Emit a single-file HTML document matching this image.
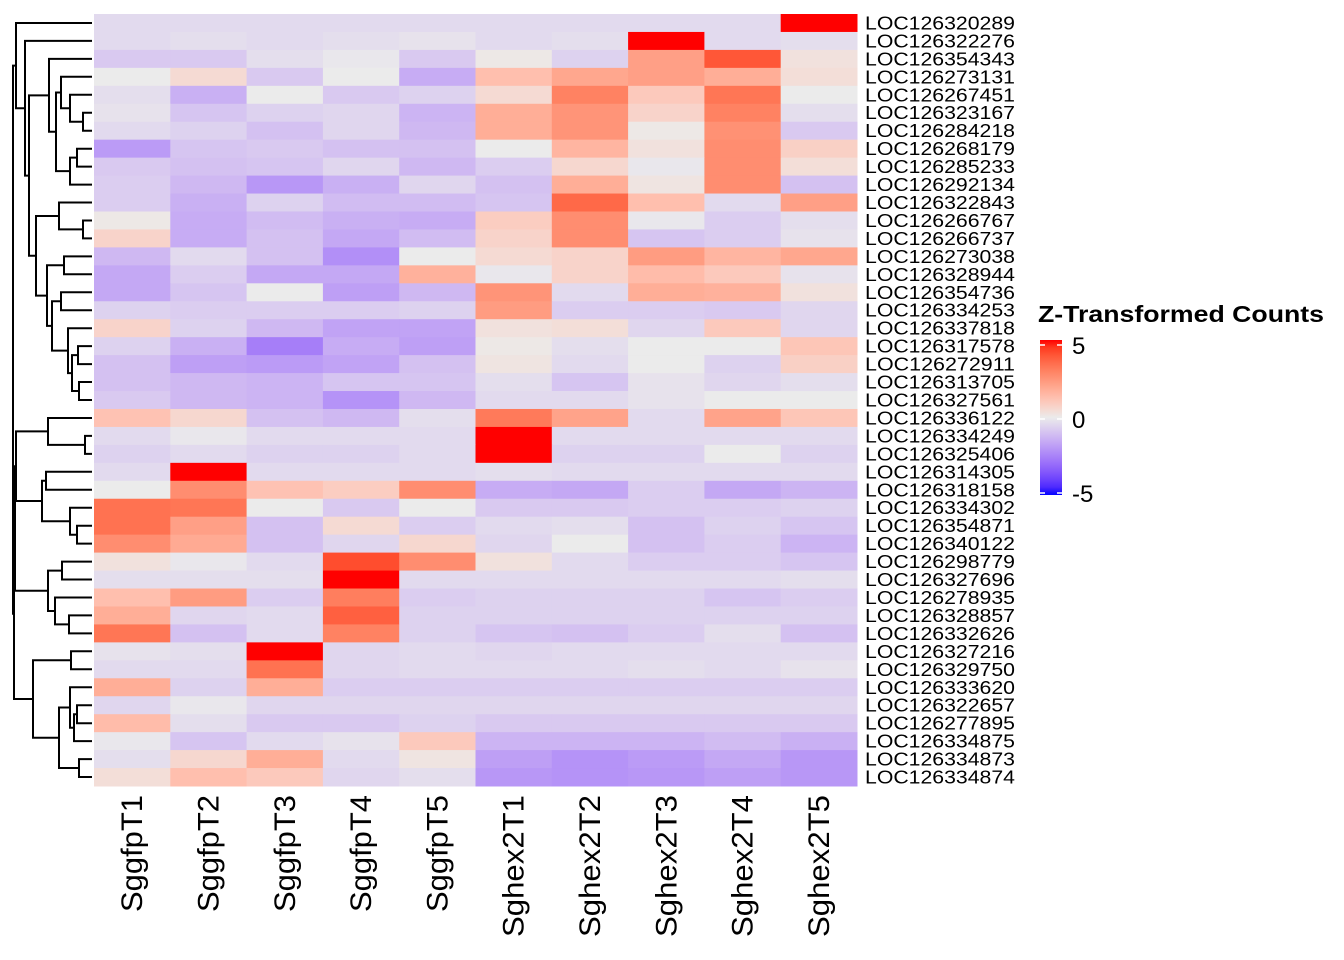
<!DOCTYPE html>
<html><head><meta charset="utf-8"><style>
html,body{margin:0;padding:0;background:#fff;}
svg{display:block;font-family:"Liberation Sans",Arial,sans-serif;}
</style></head><body>
<svg id="chart" width="1344" height="960" viewBox="0 0 1344 960">
<defs>
<linearGradient id="lg" x1="0" y1="0" x2="0" y2="1"></linearGradient>
</defs>
<g id="dendro"></g>
<g id="cells"></g>
<g id="rowlabels"></g>
<g id="collabels"></g>
<g id="legend">
<text x="1038" y="322" font-size="23" font-weight="bold" fill="#000" textLength="286" lengthAdjust="spacingAndGlyphs">Z-Transformed Counts</text>
<rect x="1040" y="340" width="22" height="155" fill="url(#lg)"/>
</g>
</svg>
<script>
const columns = ["SggfpT1","SggfpT2","SggfpT3","SggfpT4","SggfpT5","Sghex2T1","Sghex2T2","Sghex2T3","Sghex2T4","Sghex2T5"];
const genes = ["LOC126320289","LOC126322276","LOC126354343","LOC126273131","LOC126267451","LOC126323167","LOC126284218","LOC126268179","LOC126285233","LOC126292134","LOC126322843","LOC126266767","LOC126266737","LOC126273038","LOC126328944","LOC126354736","LOC126334253","LOC126337818","LOC126317578","LOC126272911","LOC126313705","LOC126327561","LOC126336122","LOC126334249","LOC126325406","LOC126314305","LOC126318158","LOC126334302","LOC126354871","LOC126340122","LOC126298779","LOC126327696","LOC126278935","LOC126328857","LOC126332626","LOC126327216","LOC126329750","LOC126333620","LOC126322657","LOC126277895","LOC126334875","LOC126334873","LOC126334874"];
const zValues = [
[-0.4,-0.4,-0.4,-0.4,-0.4,-0.4,-0.4,-0.4,-0.4,5.5],
[-0.4,-0.3,-0.4,-0.3,-0.2,-0.4,-0.3,5.5,-0.4,-0.3],
[-0.8,-0.8,-0.3,-0.1,-0.8,0.1,-0.6,2.2,4,0.3],
[0,0.5,-0.8,0,-1.5,1.3,2,2.2,1.8,0.4],
[-0.3,-1.4,0,-0.8,-0.6,0.5,3,1,3.3,0],
[-0.2,-0.9,-0.6,-0.5,-1.3,1.8,2.5,0.7,3,-0.3],
[-0.4,-0.6,-1,-0.5,-1.2,1.8,2.5,0.1,2.6,-0.8],
[-1.9,-0.9,-0.8,-1,-1,0,1.6,0.3,2.7,0.8],
[-0.8,-1,-0.9,-0.5,-1.2,-0.7,0.6,-0.1,2.7,0.4],
[-0.7,-1.2,-2,-1.4,-0.5,-1,1.8,0.2,2.7,-1],
[-0.7,-1.4,-0.6,-1.1,-1.1,-0.9,3.6,1.3,-0.4,2.2],
[0.1,-1.5,-1.1,-1.4,-1.5,0.9,2.7,-0.1,-0.7,-0.3],
[0.7,-1.5,-1,-1.6,-1.1,0.7,2.7,-0.9,-0.7,-0.2],
[-1.2,-0.4,-1,-2.2,0,0.5,0.7,2.3,1.6,2],
[-1.6,-0.7,-1.6,-1.6,1.7,-0.1,0.7,1.4,1,-0.2],
[-1.6,-0.9,0,-1.8,-1.2,2.5,-0.4,1.8,1.7,0.3],
[-0.6,-0.7,-0.7,-0.7,-0.6,2.3,-0.7,-0.7,-0.8,-0.5],
[0.7,-0.6,-1.2,-1.7,-1.7,0.3,0.4,-0.5,1,-0.5],
[-0.6,-1.4,-2.6,-1.5,-1.8,0.1,-0.3,0,0,1.1],
[-1,-1.8,-1.9,-1.7,-1,0.2,-0.4,0,-0.6,0.8],
[-1,-1.2,-1.3,-0.9,-0.9,-0.3,-0.9,-0.2,-0.5,-0.3],
[-0.8,-1.2,-1.3,-2.1,-1.2,-0.4,-0.4,-0.2,0,0],
[1.2,0.6,-1,-1.2,-0.3,3.2,2.1,-0.4,2.1,1.1],
[-0.4,-0.1,-0.4,-0.4,-0.4,5.5,-0.4,-0.4,-0.4,-0.4],
[-0.6,-0.4,-0.6,-0.6,-0.4,5,-0.6,-0.6,0,-0.6],
[-0.4,5.5,-0.4,-0.4,-0.4,-0.3,-0.4,-0.4,-0.4,-0.4],
[0,2.7,1.2,0.9,2.7,-1.5,-1.6,-0.7,-1.6,-1.3],
[3.4,3.3,0,-0.8,0,-0.8,-0.8,-0.7,-0.7,-0.6],
[3.4,2.2,-1,0.5,-0.7,-0.4,-0.3,-1,-0.6,-0.9],
[2.7,1.9,-1,-0.5,0.6,-0.5,0,-1,-0.7,-1.3],
[0.3,-0.1,-0.4,4.2,2.7,0.3,-0.4,-0.7,-0.7,-0.9],
[-0.3,-0.3,-0.3,5.5,-0.4,-0.4,-0.4,-0.4,-0.4,-0.3],
[1.3,2.3,-0.7,3.1,-0.7,-0.6,-0.6,-0.6,-0.9,-0.7],
[1.8,-0.5,-0.4,3.8,-0.6,-0.6,-0.6,-0.6,-0.6,-0.6],
[3.3,-1,-0.4,3,-0.6,-0.9,-1,-0.7,-0.3,-1],
[-0.2,-0.3,5.5,-0.5,-0.4,-0.5,-0.4,-0.4,-0.4,-0.4],
[-0.4,-0.4,3.4,-0.5,-0.4,-0.4,-0.4,-0.3,-0.4,-0.2],
[1.8,-0.6,1.8,-0.7,-0.7,-0.7,-0.7,-0.7,-0.7,-0.7],
[-0.5,-0.1,-0.5,-0.5,-0.5,-0.5,-0.5,-0.5,-0.5,-0.5],
[1.4,-0.3,-0.8,-0.8,-0.6,-0.8,-0.8,-0.8,-0.8,-0.8],
[-0.1,-0.9,-0.4,-0.2,1,-1.3,-1.3,-1.3,-1.1,-1.4],
[-0.3,0.6,1.8,-0.4,0.2,-1.8,-2.1,-1.9,-1.6,-2],
[0.4,1.3,1,-0.5,-0.3,-2,-2.1,-2,-1.8,-2]
];
const legendTicks = [5,0,-5];
const dendroTree = [[0,[1,[[2,[[3,[4,[5,6,83],70],61],[[7,8,77],9,70],56],49],[[10,[11,12,83],59],[[13,14,64],[[15,16,61],[17,[[18,19,78],[20,21,79],72],68],52],47],36],29],25],16],
 [[[[22,[23,24,85],48],[[25,26,46],[27,[28,29,77],70],42],16],[[30,31,62],[32,[33,34,69],55],48],15],[[35,36,71],[[37,[[38,39,77],40,74],70],[41,42,79],59],33],14],13];

const X0=94,X1=857,Y0=14,Y1=786;
const cw=(X1-X0)/columns.length, rh=(Y1-Y0)/genes.length;
const xPos=j=>X0+j*cw, yPos=i=>Y0+i*rh, yMid=i=>Y0+(i+0.5)*rh;

function s2l(c){c/=255;return c<=0.04045?c/12.92:Math.pow((c+0.055)/1.055,2.4);}
function l2s(c){c=c<=0.0031308?12.92*c:1.055*Math.pow(c,1/2.4)-0.055;return Math.max(0,Math.min(255,Math.round(c*255)));}
function toLab(r,g,b){r=s2l(r);g=s2l(g);b=s2l(b);
 let x=(r*0.4124+g*0.3576+b*0.1805)/0.95047,y=r*0.2126+g*0.7152+b*0.0722,z=(r*0.0193+g*0.1192+b*0.9505)/1.08883;
 const f=t=>t>0.008856?Math.cbrt(t):7.787*t+16/116;x=f(x);y=f(y);z=f(z);return [116*y-16,500*(x-y),200*(y-z)];}
function fromLab(L,a,bb){let y=(L+16)/116,x=a/500+y,z=y-bb/200;
 const fi=t=>t*t*t>0.008856?t*t*t:(t-16/116)/7.787;x=fi(x)*0.95047;y=fi(y);z=fi(z)*1.08883;
 const r=x*3.2406+y*-1.5372+z*-0.4986,g=x*-0.9689+y*1.8758+z*0.0415,b=x*0.0557+y*-0.2040+z*1.0570;
 return `rgb(${l2s(r)},${l2s(g)},${l2s(b)})`;}
const cBlue=toLab(0,0,255),cMid=toLab(235,235,235),cRed=toLab(255,0,0);
function color(v){v=Math.max(-5,Math.min(5,v));const t=Math.abs(v)/5;const e=v<0?cBlue:cRed;
 return fromLab(cMid[0]+(e[0]-cMid[0])*t,cMid[1]+(e[1]-cMid[1])*t,cMid[2]+(e[2]-cMid[2])*t);}

const NS="http://www.w3.org/2000/svg";
function mk(tag,attrs,parent){const el=document.createElementNS(NS,tag);for(const k in attrs)el.setAttribute(k,attrs[k]);parent.appendChild(el);return el;}

const cells=document.getElementById('cells');
zValues.forEach((row,i)=>row.forEach((v,j)=>{
 const r=mk('rect',{x:xPos(j).toFixed(2),y:yPos(i).toFixed(2),width:(cw+0.5).toFixed(2),height:(rh+0.5).toFixed(2),fill:color(v)},cells);
 
 
}));
const rl=document.getElementById('rowlabels');
genes.forEach((g,i)=>{const t=mk('text',{x:865,y:(yMid(i)+6.5).toFixed(1),'font-size':18,fill:'#000',textLength:150,lengthAdjust:'spacingAndGlyphs'},rl);t.textContent=g;
 
 });
const cl=document.getElementById('collabels');
columns.forEach((c,j)=>{const cx=xPos(j)+cw/2+10;const len=c.length===7?117:142;
 const t=mk('text',{x:0,y:0,'font-size':30,fill:'#000','text-anchor':'end',textLength:len,lengthAdjust:'spacingAndGlyphs',transform:`translate(${cx.toFixed(1)},795) rotate(-90)`},cl);t.textContent=c;
 
 });

const dg=document.getElementById('dendro');
function draw(n){if(typeof n==='number')return {y:yMid(n),x:X0-2};
 const a=draw(n[0]),b=draw(n[1]),h=n[2];
 const p=mk('path',{d:`M${a.x},${a.y.toFixed(1)}H${h}V${b.y.toFixed(1)}H${b.x}`,fill:'none',stroke:'#000','stroke-width':2},dg);
 
 
 return {x:h,y:(a.y+b.y)/2};}
draw(dendroTree);

const lg=document.getElementById('lg');
for(let k=0;k<=20;k++){const v=5-k*0.5;mk('stop',{offset:(k/20).toFixed(3),'stop-color':color(v)},lg);}
const leg=document.getElementById('legend');
const ly=v=>345+(5-v)/10*148;
legendTicks.forEach(v=>{const y=ly(v);
 const l1=mk('line',{x1:1040,x2:1045,y1:y,y2:y,stroke:'#fff','stroke-width':1.5},leg);
 
 
 const l2=mk('line',{x1:1057,x2:1062,y1:y,y2:y,stroke:'#fff','stroke-width':1.5},leg);
 
 
 const t=mk('text',{x:1072,y:y+9,'font-size':24,fill:'#000'},leg);t.textContent=v;
 
 });
</script>
</body></html>
